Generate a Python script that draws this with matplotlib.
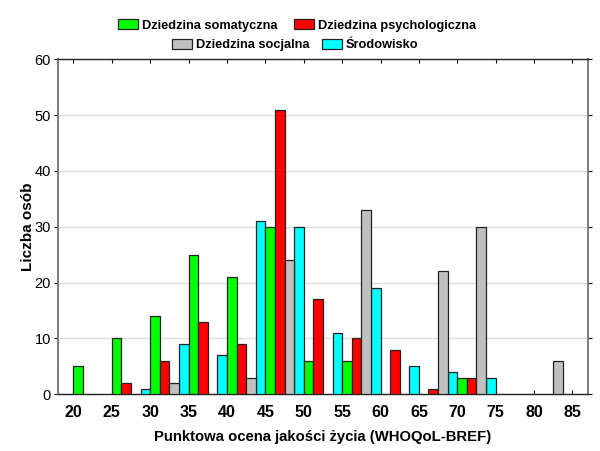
import numpy as np
import matplotlib
matplotlib.use("Agg")
import matplotlib.pyplot as plt
from matplotlib.patches import Patch

plt.rcParams['font.family'] = ['Liberation Sans', 'DejaVu Sans']

# przedzialy punktowe (lewa krawedz grupy slupkow)
punkty = [20, 25, 30, 35, 40, 45, 50, 55, 60, 65, 70, 75, 80, 85]

somatyczna = [5, 10, 14, 25, 21, 30, 6, 6, 0, 0, 3, 0, 0, 0]
psychologiczna = [0, 2, 6, 13, 9, 51, 17, 10, 8, 1, 3, 0, 0, 0]
socjalna = [0, 0, 2, 0, 3, 24, 0, 33, 0, 22, 30, 0, 6, 0]
srodowisko = [0, 0, 1, 9, 7, 31, 30, 11, 19, 5, 4, 3, 0, 0]

nazwy = ['Dziedzina somatyczna', 'Dziedzina psychologiczna',
         'Dziedzina socjalna', 'Środowisko']
kolory = ['#00ff00', '#ff0000', '#c0c0c0', '#00ffff']

fig = plt.figure(figsize=(6.0, 4.51), dpi=100)
ax = fig.add_axes([0.0967, 0.1257, 0.883, 0.7428])

w = 1.25
x = np.array(punkty, dtype=float)
# kolejnosc w grupie: srodowisko, somatyczna, psychologiczna, socjalna
serie = [(srodowisko, -1, kolory[3]), (somatyczna, 0, kolory[0]),
         (psychologiczna, 1, kolory[1]), (socjalna, 2, kolory[2])]
for dane, off, kol in serie:
    d = np.array(dane)
    m = d > 0
    ax.bar(x[m] + off * w, d[m], width=w, align='edge', color=kol,
           edgecolor='#222222', linewidth=0.9, zorder=3)

ax.set_xlim(18, 87)
ax.set_ylim(0, 60)
ax.set_xticks(punkty)
ax.set_xticklabels([str(p) for p in punkty], fontsize=11.5, fontweight='bold')
ax.set_yticks(range(0, 61, 10))
ax.tick_params(axis='y', labelsize=10.5, length=3, direction='out', right=True, pad=2)
ax.tick_params(axis='x', length=3, direction='in', top=True, pad=8)
ax.yaxis.grid(True, color='#dddddd', linewidth=1.0, zorder=0)
ax.set_axisbelow(True)

for s in ['left', 'right']:
    ax.spines[s].set_color('#808080')
    ax.spines[s].set_linewidth(1.5)
for s in ['top', 'bottom']:
    ax.spines[s].set_color('#222222')
    ax.spines[s].set_linewidth(1.0)

ax.set_xlabel('Punktowa ocena jakości życia (WHOQoL-BREF)', fontsize=10.7,
              fontweight='bold', labelpad=7)
ax.set_ylabel('Liczba osób', fontsize=11, fontweight='bold', labelpad=0)

uchwyty = [Patch(facecolor=k, edgecolor='#222222', linewidth=0.9) for k in kolory]
opcje = dict(loc='center', ncol=2, frameon=False,
             prop={'weight': 'bold', 'size': 9.2},
             handlelength=1.55, handleheight=0.85, handletextpad=0.3,
             borderpad=0)
fig.legend(uchwyty[:2], nazwy[:2], bbox_to_anchor=(0.495, 0.944),
           columnspacing=1.3, **opcje)
fig.legend(uchwyty[2:], nazwy[2:], bbox_to_anchor=(0.492, 0.9),
           columnspacing=1.0, **opcje)

fig.savefig('out.png', dpi=100)
